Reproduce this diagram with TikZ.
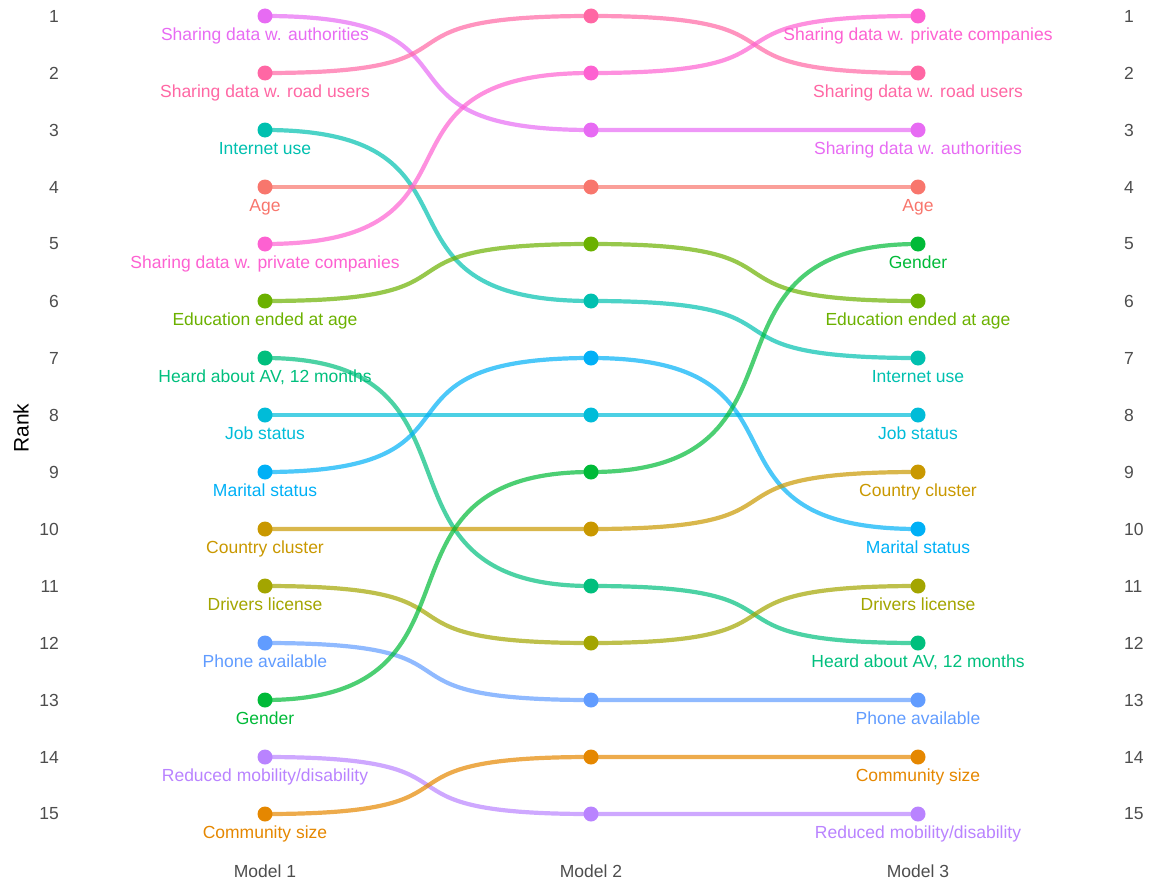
\documentclass[tikz,border=0pt]{standalone}
\usepackage{fontspec}
\setmainfont{Liberation Sans}
\usetikzlibrary{backgrounds}
\definecolor{cAge}{HTML}{F8766D}
\definecolor{cComm}{HTML}{E58700}
\definecolor{cCtry}{HTML}{C99800}
\definecolor{cDriv}{HTML}{A3A500}
\definecolor{cEdu}{HTML}{6BB100}
\definecolor{cGend}{HTML}{00BA38}
\definecolor{cHeard}{HTML}{00BF7D}
\definecolor{cNet}{HTML}{00C0AF}
\definecolor{cJob}{HTML}{00BCD8}
\definecolor{cMar}{HTML}{00B0F6}
\definecolor{cPhone}{HTML}{619CFF}
\definecolor{cMob}{HTML}{B983FF}
\definecolor{cAuth}{HTML}{E76BF3}
\definecolor{cPriv}{HTML}{FD61D1}
\definecolor{cRoad}{HTML}{FF67A4}
\definecolor{axisgray}{HTML}{4D4D4D}

\begin{document}
\begin{tikzpicture}[x=1pt, y=-1pt,
  dot/.style={circle, inner sep=0pt, minimum size=15pt},
  bump/.style={line width=4.2pt, draw opacity=0.7},
  lbl/.style={font=\fontsize{17.5}{20}\selectfont, inner sep=0pt,
    text height=12.6pt, text depth=3.7pt},
  tick/.style={font=\fontsize{17.5}{20}\selectfont, text=axisgray, inner sep=0pt}]
  \useasboundingbox (0,0) rectangle (1150,883);
  % one series per factor: name/colour/rank in model 1/2/3/label
  \foreach \nm/\col/\ra/\rb/\rc/\txt in {
      auth/cAuth/1/3/3/{Sharing data w. authorities},
      road/cRoad/2/1/2/{Sharing data w. road users},
      net/cNet/3/6/7/{Internet use},
      age/cAge/4/4/4/{Age},
      priv/cPriv/5/2/1/{Sharing data w. private companies},
      edu/cEdu/6/5/6/{Education ended at age},
      heard/cHeard/7/11/12/{Heard about AV, 12 months},
      job/cJob/8/8/8/{Job status},
      mar/cMar/9/7/10/{Marital status},
      ctry/cCtry/10/10/9/{Country cluster},
      driv/cDriv/11/12/11/{Drivers license},
      phone/cPhone/12/13/13/{Phone available},
      gend/cGend/13/9/5/{Gender},
      mob/cMob/14/15/15/{Reduced mobility/disability},
      comm/cComm/15/14/14/{Community size}}{
    \node[dot, fill=\col, label={[lbl, text=\col, yshift=-20pt]center:\txt}]
      (\nm1) at (265,{16+57*(\ra-1)}) {};
    \node[dot, fill=\col] (\nm2) at (591,{16+57*(\rb-1)}) {};
    \node[dot, fill=\col, label={[lbl, text=\col, yshift=-20pt]center:\txt}]
      (\nm3) at (918,{16+57*(\rc-1)}) {};
    \begin{pgfonlayer}{background}
      \draw[bump, draw=\col] (\nm1.center) .. controls +(240,0) and +(-240,0) .. (\nm2.center)
        .. controls +(240,0) and +(-240,0) .. (\nm3.center);
    \end{pgfonlayer}
  }
  % rank axes
  \foreach \r in {1,...,15}{
    \node[tick, anchor=east] (rl\r) at (59,{16+57*(\r-1)}) {\r};
    \node[tick, anchor=west] (rr\r) at (1124,{16+57*(\r-1)}) {\r};
  }
  \node[tick] (m1) at (265,871) {Model 1};
  \node[tick] (m2) at (591,871) {Model 2};
  \node[tick] (m3) at (918,871) {Model 3};
  \node[font=\fontsize{21}{24}\selectfont, rotate=90, inner sep=0pt] (ylab) at (21,428) {Rank};
\end{tikzpicture}
\end{document}
